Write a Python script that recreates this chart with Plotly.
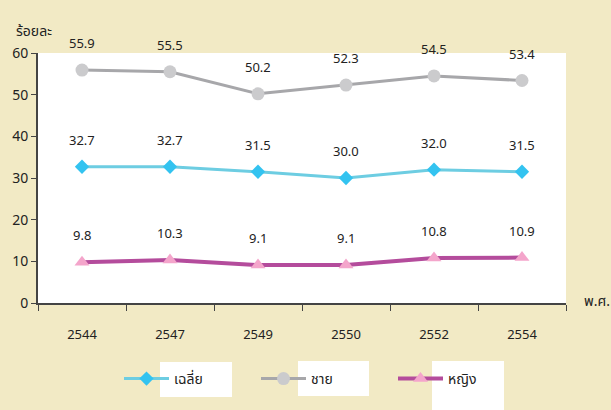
import plotly.graph_objects as go

years = ["2544", "2547", "2549", "2550", "2552", "2554"]
avg = [32.7, 32.7, 31.5, 30.0, 32.0, 31.5]
male = [55.9, 55.5, 50.2, 52.3, 54.5, 53.4]
female = [9.8, 10.3, 9.1, 9.1, 10.8, 10.9]
names = ["เฉลี่ย", "ชาย", "หญิง"]
y_ticks = [0, 10, 20, 30, 40, 50, 60]

FONT = "Noto Sans, Noto Sans Thai, sans-serif"
BG = "#F2EAC5"

fig = go.Figure()
fig.add_trace(go.Scatter(x=years, y=avg, name=names[0], mode="lines+markers",
                         line=dict(color="#6DCDE2", width=3),
                         marker=dict(symbol="diamond", size=11, color="#33C3F0")))
fig.add_trace(go.Scatter(x=years, y=male, name=names[1], mode="lines+markers",
                         line=dict(color="#A7A7AA", width=3),
                         marker=dict(symbol="circle", size=13, color="#CBCBCD")))
fig.add_trace(go.Scatter(x=years, y=female, name=names[2], mode="lines+markers",
                         line=dict(color="#B44C9C", width=4),
                         marker=dict(symbol="triangle-up", size=13, color="#F4A5CB")))

# value labels; on a category axis annotations are placed by category index
for series in (avg, male, female):
    for i, yv in enumerate(series):
        fig.add_annotation(x=i, y=yv, text=f"{yv:.1f}", showarrow=False,
                           yshift=27, font=dict(size=13, color="#222"))

fig.add_annotation(xref="paper", yref="paper", x=-0.045, y=1.09, text="ร้อยละ",
                   showarrow=False, xanchor="left", yanchor="middle",
                   font=dict(size=14, color="#222"))
fig.add_annotation(xref="paper", yref="paper", x=1.03, y=0.01, text="พ.ศ.",
                   showarrow=False, xanchor="left", yanchor="middle",
                   font=dict(size=14, color="#222"))

# white boxes behind legend labels
for x0, x1, y0, y1 in [(160, 232, 362, 397), (298, 369, 361, 396), (432, 504, 361, 410)]:
    fig.add_shape(type="rect", xref="paper", yref="paper",
                  x0=(x0 - 38) / 528, x1=(x1 - 38) / 528,
                  y0=(303 - y1) / 250, y1=(303 - y0) / 250,
                  fillcolor="white", line=dict(width=0), layer="below")

fig.update_layout(
    width=611, height=410,
    margin=dict(l=38, r=45, t=53, b=107),
    paper_bgcolor=BG, plot_bgcolor="white",
    font=dict(family=FONT, size=14, color="#222"),
    showlegend=True,
    legend=dict(orientation="h", x=(119 - 38) / 528, xanchor="left",
                y=-(379 - 303) / 250, yanchor="middle",
                bgcolor="rgba(0,0,0,0)", entrywidth=77, entrywidthmode="pixels",
                itemwidth=45, font=dict(size=14)),
)
fig.update_xaxes(type="category", range=[-0.5, 5.5], showgrid=False, showline=True,
                 linecolor="#444", linewidth=2, ticks="outside", tickson="boundaries",
                 ticklen=6, tickcolor="#444", ticklabelstandoff=18,
                 tickfont=dict(size=13))
fig.update_yaxes(range=[0, 60], tickvals=y_ticks, showgrid=False, showline=True,
                 linecolor="#444", linewidth=2, ticks="outside", ticklen=5,
                 tickcolor="#444", zeroline=False, tickfont=dict(size=14))

fig.write_html(
    "out.html",
    config={"displayModeBar": False},
    post_script="document.body.style.margin='0';"
                "document.body.style.background='" + BG + "';",
)
